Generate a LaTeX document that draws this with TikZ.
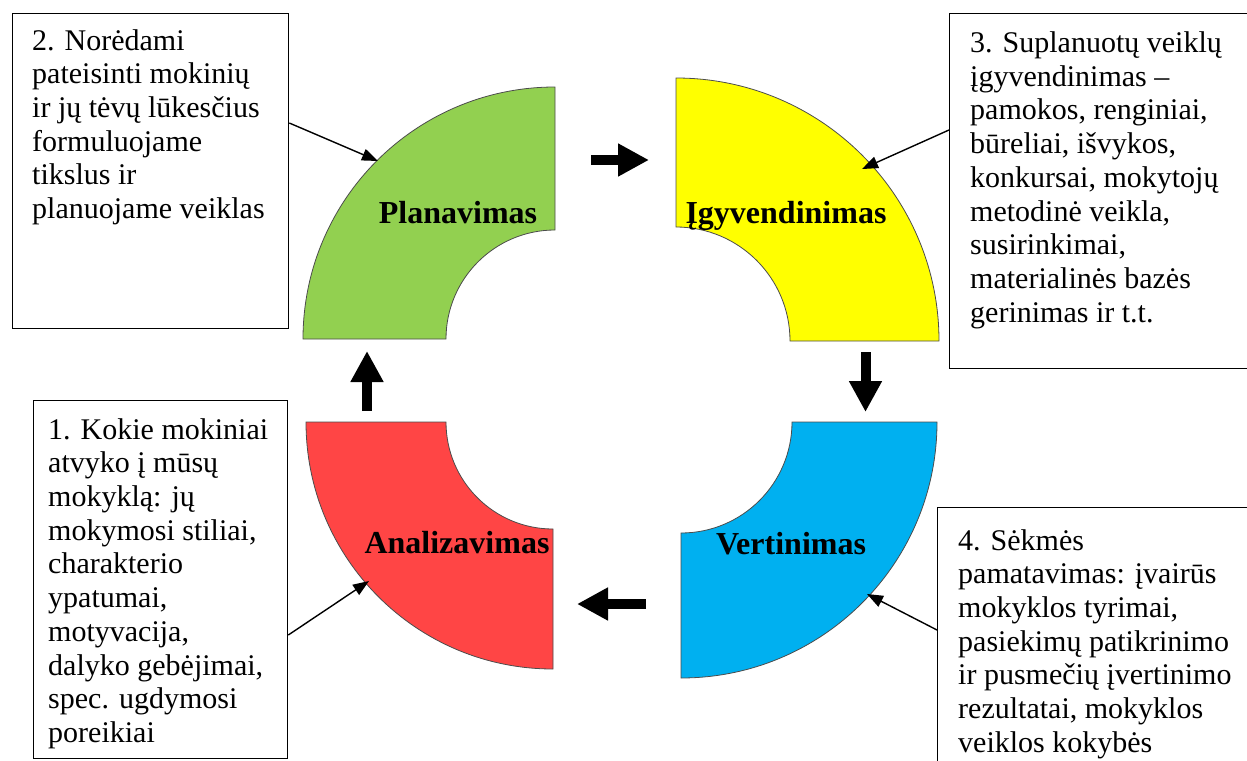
\documentclass[tikz,border=0pt]{standalone}
\usepackage{fontspec}
\setmainfont{Liberation Serif}
\usetikzlibrary{arrows.meta,calc}
\definecolor{planc}{HTML}{92D050}
\definecolor{igyvc}{HTML}{FFFF00}
\definecolor{vertc}{HTML}{00B0F0}
\definecolor{analc}{HTML}{FF4545}
\tikzstyle{segment}=[draw=black!70,line width=0.8pt]
\tikzstyle{phase}=[font=\bfseries\fontsize{32}{38}\selectfont,inner sep=0pt,anchor=base]
\tikzstyle{box}=[draw,line width=1.3pt,inner sep=0pt,anchor=north west]
\tikzstyle{boxtext}=[align=left,inner sep=0pt,anchor=north west,font=\fontsize{30}{33.7}\selectfont]
\tikzstyle{pointer}=[draw,line width=1.4pt,-{Triangle[length=16pt,width=12pt]}]
\tikzstyle{bigarrow}=[draw,line width=10pt,-{Triangle[length=31pt,width=31pt]}]

\begin{document}
\begin{tikzpicture}[x=1pt,y=-1pt]
    \useasboundingbox (0,0) rectangle (1247,760);
    % The four quarter rings
    \path[segment,fill=planc] (303,339) arc[start angle=180,end angle=270,radius=252]
        -- (555,230) arc[start angle=270,end angle=180,radius=109] -- cycle;
    \path[segment,fill=igyvc] (676,78) arc[start angle=270,end angle=360,radius=263]
        -- (790,341) arc[start angle=0,end angle=-90,radius=114] -- cycle;
    \path[segment,fill=vertc] (937,422) arc[start angle=0,end angle=90,radius=256]
        -- (681,533) arc[start angle=90,end angle=0,radius=111] -- cycle;
    \path[segment,fill=analc] (553,669) arc[start angle=90,end angle=180,radius=247]
        -- (446,422) arc[start angle=180,end angle=90,radius=107] -- cycle;

    % Phase names
    \node[phase] (plan) at (458,223) {Planavimas};
    \node[phase] (igyv) at (786,223) {Įgyvendinimas};
    \node[phase] (vert) at (791,554) {Vertinimas};
    \node[phase] (anal) at (457,553) {Analizavimas};

    % Boxes with the notes
    \node[box,minimum width=276pt,minimum height=315pt] (box2) at (12,13) {};
    \node[box,minimum width=300pt,minimum height=355pt] (box3) at (949,13) {};
    \node[box,minimum width=254pt,minimum height=358pt] (box1) at (33,400) {};
    \node[box,minimum width=315pt,minimum height=260pt] (box4) at (937,507) {};

    \node[boxtext] (txt2) at (32,26.4) {\strut 2. Norėdami\\ pateisinti mokinių\\ ir jų tėvų lūkesčius\\ formuluojame\\ tikslus ir\\ planuojame veiklas};
    \node[boxtext] (txt3) at (970,28.8) {\strut 3. Suplanuotų veiklų\\ įgyvendinimas –\\ pamokos, renginiai,\\ būreliai, išvykos,\\ konkursai, mokytojų\\ metodinė veikla,\\ susirinkimai,\\ materialinės bazės\\ gerinimas ir t.t.};
    \node[boxtext] (txt1) at (48,415.4) {\strut 1. Kokie mokiniai\\ atvyko į mūsų\\ mokyklą: jų\\ mokymosi stiliai,\\ charakterio\\ ypatumai,\\ motyvacija,\\ dalyko gebėjimai,\\ spec. ugdymosi\\ poreikiai};
    \node[boxtext] (txt4) at (958,526.4) {\strut 4. Sėkmės\\ pamatavimas: įvairūs\\ mokyklos tyrimai,\\ pasiekimų patikrinimo\\ ir pusmečių įvertinimo\\ rezultatai, mokyklos\\ veiklos kokybės};

    % Thin arrows from the notes
    \coordinate (tipplan) at (378,161);
    \coordinate (tipigyv) at (862,169);
    \coordinate (tipvert) at (867,594);
    \coordinate (tipanal) at (369,581);
    \path[pointer] ($(box2.north east)+(0,110)$) -- (tipplan);
    \path[pointer] ($(box3.north west)+(0,117)$) -- (tipigyv);
    \path[pointer] ($(box4.north west)+(0,123)$) -- (tipvert);
    \path[pointer] ($(box1.north east)+(0,235)$) -- (tipanal);

    % Thick arrows of the cycle
    \coordinate (rs) at (591,160);   \coordinate (re) at (649,160);
    \coordinate (ds) at (865.5,352); \coordinate (de) at (865.5,412);
    \coordinate (ls) at (646,604);   \coordinate (le) at (577,604);
    \coordinate (us) at (367,411);   \coordinate (ue) at (367,351);
    \foreach \source/ \dest in {rs/re, ds/de, ls/le, us/ue}
        \path[bigarrow] (\source) -- (\dest);
\end{tikzpicture}
\end{document}
